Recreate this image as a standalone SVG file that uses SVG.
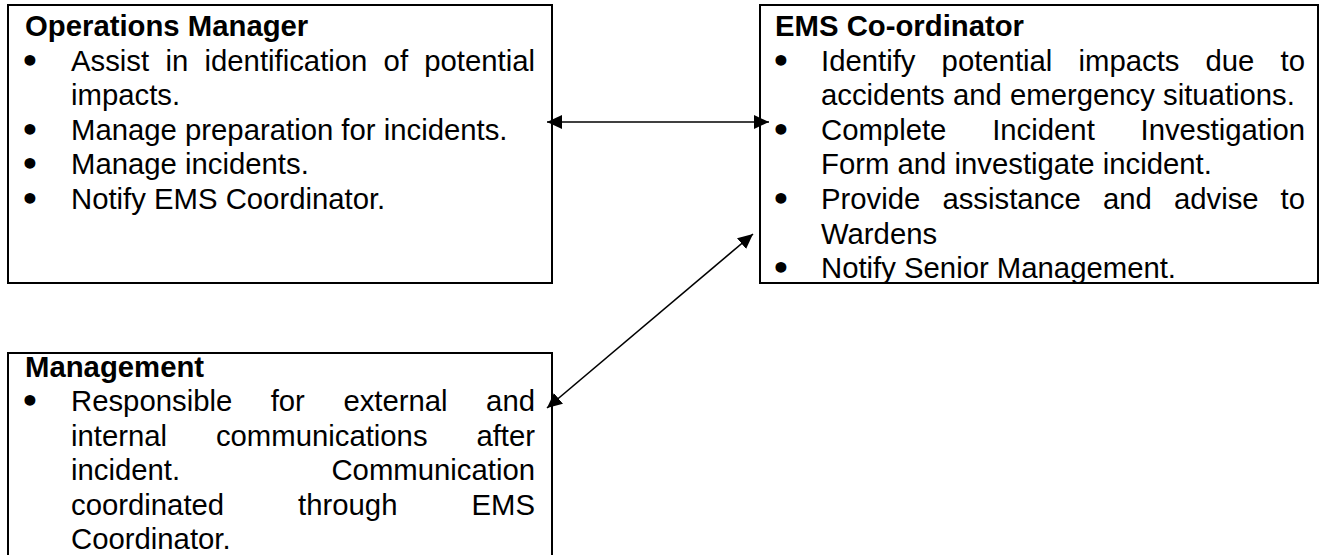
<svg xmlns="http://www.w3.org/2000/svg" width="1320" height="555" viewBox="0 0 1320 555">
<style>
  .box { fill: #ffffff; stroke: #000000; stroke-width: 2; }
  .t { font-family: "Liberation Sans", Arial, sans-serif; font-size: 29.3px; fill: #000000; }
  .h { font-family: "Liberation Sans", Arial, sans-serif; font-size: 29.3px; font-weight: bold; fill: #000000; }
  .b { font-family: "DejaVu Sans", "Liberation Sans", sans-serif; font-size: 31px; font-weight: bold; fill: #000000; text-anchor: middle; }
  .e { text-anchor: end; }
  .conn { stroke: #000000; stroke-width: 1.6; fill: none; marker-start: url(#ah); marker-end: url(#ah); }
</style>
<defs>
  <marker id="ah" markerUnits="userSpaceOnUse" markerWidth="16" markerHeight="15" refX="15" refY="7" orient="auto-start-reverse" viewBox="0 0 16 15">
    <path d="M0,0 L15,7 L0,14 z" fill="#000000"/>
  </marker>
</defs>
<rect width="1320" height="555" fill="#ffffff"/>

<g id="operations-manager">
  <rect class="box" x="8" y="5" width="544" height="278"/>
  <text class="h" x="25" y="36">Operations Manager</text>
  <text class="b" x="30" y="71.6">•</text>
  <text class="t" x="71" y="70.6">Assist</text>
  <text class="t" x="165.4" y="70.6">in</text>
  <text class="t" x="204.5" y="70.6">identification</text>
  <text class="t" x="383.6" y="70.6">of</text>
  <text class="t e" x="535" y="70.6">potential</text>
  <text class="t" x="71" y="105.2">impacts.</text>
  <text class="b" x="30" y="140.8">•</text>
  <text class="t" x="71" y="139.8">Manage preparation for incidents.</text>
  <text class="b" x="30" y="175.4">•</text>
  <text class="t" x="71" y="174.4">Manage incidents.</text>
  <text class="b" x="30" y="210">•</text>
  <text class="t" x="71" y="209">Notify EMS Coordinator.</text>
</g>

<g id="ems-coordinator">
  <rect class="box" x="760" y="5" width="558" height="278"/>
  <text class="h" x="775" y="36">EMS Co-ordinator</text>
  <text class="b" x="781" y="71.6">•</text>
  <text class="t" x="821" y="70.6">Identify</text>
  <text class="t" x="941.6" y="70.6">potential</text>
  <text class="t" x="1078.5" y="70.6">impacts</text>
  <text class="t" x="1205.5" y="70.6">due</text>
  <text class="t e" x="1305" y="70.6">to</text>
  <text class="t" x="821" y="105.2">accidents and emergency situations.</text>
  <text class="b" x="781" y="140.8">•</text>
  <text class="t" x="821" y="139.8">Complete</text>
  <text class="t" x="992.2" y="139.8">Incident</text>
  <text class="t e" x="1305" y="139.8">Investigation</text>
  <text class="t" x="821" y="174.4">Form and investigate incident.</text>
  <text class="b" x="781" y="210">•</text>
  <text class="t" x="821" y="209">Provide</text>
  <text class="t" x="942.4" y="209">assistance</text>
  <text class="t" x="1102.9" y="209">and</text>
  <text class="t" x="1173.9" y="209">advise</text>
  <text class="t e" x="1305" y="209">to</text>
  <text class="t" x="821" y="243.6">Wardens</text>
  <text class="b" x="781" y="279.2">•</text>
  <text class="t" x="821" y="278.2">Notify Senior Management.</text>
</g>

<g id="management">
  <rect class="box" x="8" y="353" width="544" height="212"/>
  <text class="h" x="25" y="376.5">Management</text>
  <text class="b" x="30" y="412.1">•</text>
  <text class="t" x="71" y="411.1">Responsible</text>
  <text class="t" x="270.7" y="411.1">for</text>
  <text class="t" x="343.4" y="411.1">external</text>
  <text class="t e" x="535" y="411.1">and</text>
  <text class="t" x="71" y="445.7">internal</text>
  <text class="t" x="215.9" y="445.7">communications</text>
  <text class="t e" x="535" y="445.7">after</text>
  <text class="t" x="71" y="480.3">incident.</text>
  <text class="t e" x="535" y="480.3">Communication</text>
  <text class="t" x="71" y="514.9">coordinated</text>
  <text class="t" x="298.1" y="514.9">through</text>
  <text class="t e" x="535" y="514.9">EMS</text>
  <text class="t" x="71" y="549">Coordinator.</text>
</g>

<g id="connectors">
  <line class="conn" x1="547" y1="122" x2="769" y2="122"/>
  <line class="conn" x1="547" y1="408" x2="753" y2="234"/>
</g>
</svg>
